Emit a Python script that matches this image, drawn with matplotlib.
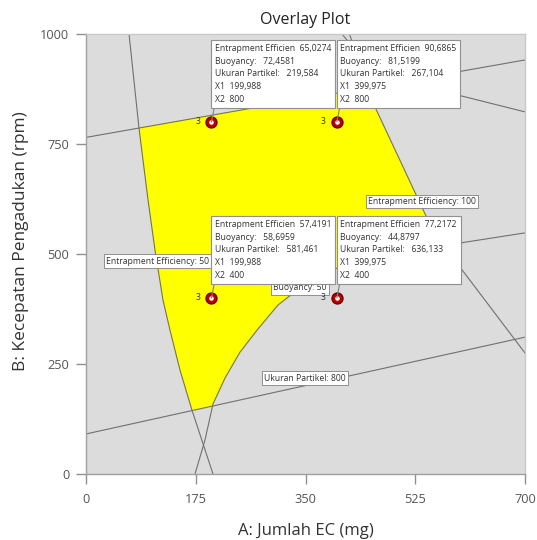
import numpy as np
import matplotlib
matplotlib.use("Agg")
import matplotlib.pyplot as plt

plt.rcParams['font.family'] = ['Open Sans', 'DejaVu Sans']

# Axis ticks
x_ticks = [0, 175, 350, 525, 700]
y_ticks = [0, 250, 500, 750, 1000]

# Contour traces: A = Jumlah EC (mg), B = Kecepatan Pengadukan (rpm)
ee50_a = [68.6, 84.5, 98.9, 110.0, 122.8, 133.9, 149.9, 169.0, 202.5]
ee50_b = [1000, 786, 623, 509, 395, 327, 236, 145, 0]

ee100_a = [420.0, 460.8, 545.3, 596.4, 700.0]
ee100_b = [1000, 834, 577, 470, 275]

buoy50_a = [173.8, 189.7, 202.5, 221.6, 245.6, 272.7, 306.1, 341.2, 400.2, 500.7, 596.4, 700.0]
buoy50_b = [0, 77, 159, 218, 277, 327, 384, 423, 468, 502, 525, 548]

ukuran800_a = [0, 700]
ukuran800_b = [91, 311]

upper_a = [0, 700]
upper_b = [765, 941]

extra_a = [408.0, 437.0, 500.7, 593.6, 700.0]
extra_b = [1000, 952, 907, 861, 823]

# Contour labels (text, A, B)
contour_labels = ["Entrapment Efficiency: 50", "Entrapment Efficiency: 100",
                  "Buoyancy: 50", "Ukuran Partikel: 800"]
label_a = [114.8, 535.8, 341.2, 349.0]
label_b = [484, 620, 423, 218]

# Design points and predicted responses
pt_a = [199.988, 399.975, 199.988, 399.975]
pt_b = [800, 800, 400, 400]
pt_ee = [65.0274, 90.6865, 57.4191, 77.2172]
pt_buoy = [72.4581, 81.5199, 58.6959, 44.8797]
pt_up = [219.584, 267.104, 581.461, 636.133]
pt_count = [3, 3, 3, 3]

GRAY_BG = '#DCDCDC'
LINE = '#707070'


def comma(v, nd):
    return f"{v:.{nd}f}".replace('.', ',')


fig = plt.figure(figsize=(5.37, 5.40), dpi=100)
ax = fig.add_axes([86 / 537, 1 - 474 / 540, 439 / 537, 440 / 540])
ax.set_facecolor(GRAY_BG)
ax.set_xlim(0, 700)
ax.set_ylim(0, 1000)

# Feasible (overlay) region from the constraint contours
ga = np.linspace(0, 700, 1401)
gb = np.linspace(0, 1000, 2001)
GA, GB = np.meshgrid(ga, gb)
o50 = np.argsort(ee50_b)
o100 = np.argsort(ee100_b)
inside = ((GA >= np.interp(GB, np.array(ee50_b)[o50], np.array(ee50_a)[o50]))
          & (GA <= np.interp(GB, np.array(ee100_b)[o100], np.array(ee100_a)[o100]))
          & (GB <= np.interp(GA, upper_a, upper_b))
          & (GB >= np.interp(GA, ukuran800_a, ukuran800_b))
          & (GB >= np.interp(GA, buoy50_a, buoy50_b, left=-1)))
ax.contourf(GA, GB, inside.astype(float), levels=[0.5, 1.5], colors=['#FFFF00'], zorder=1)

for a, b in [(ee50_a, ee50_b), (ee100_a, ee100_b), (buoy50_a, buoy50_b),
             (ukuran800_a, ukuran800_b), (upper_a, upper_b), (extra_a, extra_b)]:
    ax.plot(a, b, color=LINE, lw=0.8, zorder=2, clip_on=True)

for txt, a, b in zip(contour_labels, label_a, label_b):
    ax.text(a, b, txt, fontsize=6.2, color='#333333', ha='center', va='center', zorder=4,
            bbox=dict(boxstyle='square,pad=0.25', fc='white', ec='#808080', lw=0.6))

# Design points with flags
for a, b, ee, bu, up, n in zip(pt_a, pt_b, pt_ee, pt_buoy, pt_up, pt_count):
    ax.scatter([a], [b], s=62, c='#C00000', edgecolors='#6A0000', linewidths=1.0, zorder=6)
    ax.scatter([a], [b], s=5, c='white', zorder=7)
    ax.annotate(str(n), (a, b), xytext=(-8, 0), textcoords='offset points',
                fontsize=6.2, color='#333333', ha='right', va='center', zorder=6)
    text = (f"Entrapment Efficien  {comma(ee, 4)}\n"
            f"Buoyancy:   {comma(bu, 4)}\n"
            f"Ukuran Partikel:   {comma(up, 3)}\n"
            f"X1  {comma(a, 3)}\n"
            f"X2  {b:.0f}")
    ax.annotate(text, (a, b), xytext=(2.6, 13.0), textcoords='offset points',
                fontsize=6.2, color='#333333', ha='left', va='bottom', linespacing=1.54,
                zorder=8,
                bbox=dict(boxstyle='square,pad=0.42', fc='white', ec='#909090', lw=0.8),
                arrowprops=dict(arrowstyle='-', color='#808080', lw=0.8,
                                relpos=(0, 0), shrinkA=0, shrinkB=0))

ax.set_xticks(x_ticks)
ax.set_yticks(y_ticks)
ax.tick_params(axis='both', direction='out', length=7, width=1, color='#909090',
               labelcolor='#555555', labelsize=9.2)
ax.tick_params(axis='x', pad=7)
ax.tick_params(axis='y', pad=5)
for side, sp in ax.spines.items():
    sp.set_color('#A0A0A0' if side in ('left', 'bottom') else '#C8C8C8')
    sp.set_linewidth(1)

ax.set_title("Overlay Plot", fontsize=11.5, color='#222222', pad=7)
ax.set_xlabel("A: Jumlah EC (mg)", fontsize=12, color='#333333', labelpad=12)
ax.set_ylabel("B: Kecepatan Pengadukan (rpm)", fontsize=12.5, color='#333333')
ax.yaxis.set_label_coords(-0.13, 0.53)

fig.savefig("out.png", dpi=100, facecolor='white')
